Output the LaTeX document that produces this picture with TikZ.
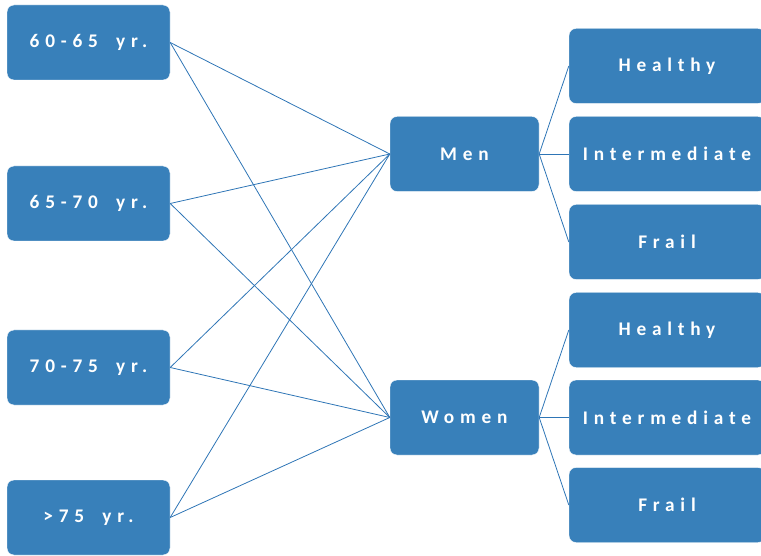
\documentclass[tikz,border=0pt]{standalone}
\usepackage{fontspec}
\setmainfont{Carlito}[LetterSpace=30, WordSpace=1.8]
\usepackage{tikz}
\usetikzlibrary{positioning}
\usepackage{xcolor}
\definecolor{boxblue}{HTML}{3880BA}
\definecolor{lineblue}{HTML}{2E75B6}

\begin{document}
\begin{tikzpicture}[x=1pt, y=-1pt, font=\bfseries\fontsize{19.3}{22}\selectfont,
    agebox/.style={fill=boxblue, draw=white, rounded corners=7pt, text=white,
        minimum width=163pt, minimum height=75pt, inner sep=0pt},
    sexbox/.style={agebox, minimum width=149pt},
    statebox/.style={agebox, minimum width=196pt},
    link/.style={draw=lineblue, line width=0.8pt}]

    % Fix the frame of the picture
    \useasboundingbox (0, 0) rectangle (761, 556);
    \clip (0, 0) rectangle (761, 556);

    % Age groups on the left
    \node[agebox] (A1) at (88.5, 42.5)  {60-65 yr.};
    \node[agebox] (A2) at (88.5, 203.5) {65-70 yr.};
    \node[agebox] (A3) at (88.5, 367.5) {70-75 yr.};
    \node[agebox] (A4) at (88.5, 517.5) {>75 yr.};

    % Sex in the middle
    \node[sexbox] (Men)   at (464.5, 154)   {Men};
    \node[sexbox] (Women) at (464.5, 417.5) {Women};

    % Frailty states on the right
    \node[statebox] (MH) at (667, 66)    {Healthy};
    \node[statebox] (MI) at (667, 154)   {Intermediate};
    \node[statebox] (MF) at (667, 242)   {Frail};
    \node[statebox] (WH) at (667, 330)   {Healthy};
    \node[statebox] (WI) at (667, 417.5) {Intermediate};
    \node[statebox] (WF) at (667, 505)   {Frail};

    % Every age group goes to both sexes
    \foreach \a in {A1, A2, A3, A4} {
        \draw[link] (\a.east) -- (Men.west);
        \draw[link] (\a.east) -- (Women.west);
    }

    % Each sex splits into three states
    \foreach \s in {H, I, F} {
        \draw[link] (Men.east)   -- (M\s.west);
        \draw[link] (Women.east) -- (W\s.west);
    }

\end{tikzpicture}
\end{document}
